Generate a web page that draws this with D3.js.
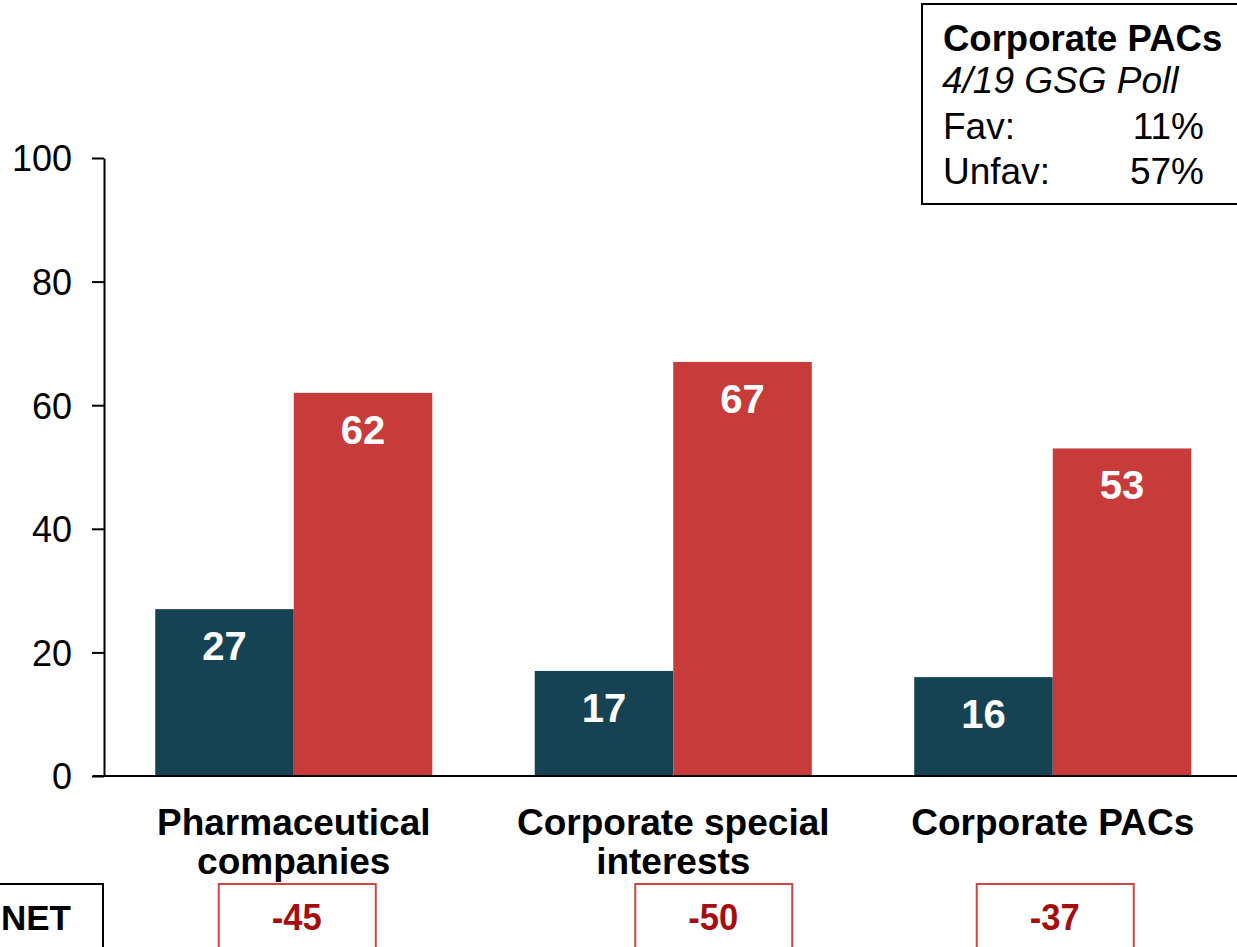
<!DOCTYPE html>
<html>
<head>
<meta charset="utf-8">
<script src="https://cdn.jsdelivr.net/npm/d3@7"></script>
<style>
  html, body { margin: 0; padding: 0; background: #fff; }
  svg { display: block; font-family: "Liberation Sans", Arial, sans-serif; }
</style>
</head>
<body>
<svg id="chart" width="1237" height="947"></svg>
<script>
// ---- Data ----
const categories = [["Pharmaceutical", "companies"], ["Corporate special", "interests"], ["Corporate PACs"]];
const categoryKeys = ["Pharmaceutical companies", "Corporate special interests", "Corporate PACs"];
const series = ["Favorable", "Unfavorable"];
const favorable = [27, 17, 16];
const unfavorable = [62, 67, 53];
const netValues = ["-45", "-50", "-37"];
const yTicks = [0, 20, 40, 60, 80, 100];
const legendTitle = "Corporate PACs";
const legendSubtitle = "4/19 GSG Poll";
const legendRows = [["Fav:", "11%"], ["Unfav:", "57%"]];

// ---- Layout ----
const svg = d3.select("#chart");
const axisX = 104, yTop = 158, yBottom = 776;
const colors = { Favorable: "#154353", Unfavorable: "#C83B3B" };

const x = d3.scaleBand().domain(categoryKeys).range([axisX, axisX + 3 * 379.5]).paddingInner(0.27).paddingOuter(0.135);
const xs = d3.scaleBand().domain(series).range([0, x.bandwidth()]);
const y = d3.scaleLinear().domain([0, 100]).range([yBottom, yTop]);

// Bars
const rows = categoryKeys.map((c, i) => ({ cat: c, vals: [{ s: "Favorable", v: favorable[i] }, { s: "Unfavorable", v: unfavorable[i] }] }));
const g = svg.append("g");
const grp = g.selectAll("g.grp").data(rows).join("g").attr("transform", d => `translate(${x(d.cat)},0)`);
grp.selectAll("rect").data(d => d.vals).join("rect")
  .attr("x", d => xs(d.s))
  .attr("y", d => y(d.v))
  .attr("width", xs.bandwidth())
  .attr("height", d => y(0) - y(d.v))
  .attr("fill", d => colors[d.s]);
grp.selectAll("text.val").data(d => d.vals).join("text")
  .attr("class", "val")
  .attr("x", d => xs(d.s) + xs.bandwidth() / 2)
  .attr("y", d => y(d.v) + 51)
  .attr("text-anchor", "middle")
  .attr("font-size", 40).attr("font-weight", "bold").attr("fill", "#fff")
  .text(d => d.v);

// Y axis
const yAxis = d3.axisLeft(y).tickValues(yTicks).tickSize(12).tickPadding(20).tickSizeOuter(0);
const ya = svg.append("g").attr("transform", `translate(${axisX},0)`).call(yAxis);
ya.select(".domain").attr("stroke", "#000").attr("stroke-width", 2);
ya.selectAll(".tick line").attr("stroke", "#000").attr("stroke-width", 2);
ya.selectAll(".tick text").attr("font-size", 36).attr("fill", "#000").attr("font-family", "Liberation Sans, Arial, sans-serif").attr("dy", "0.36em");

// X axis baseline
svg.append("line").attr("x1", 93).attr("x2", 1237).attr("y1", yBottom).attr("y2", yBottom)
  .attr("stroke", "#000").attr("stroke-width", 2);

// Category labels
categories.forEach((lines, i) => {
  const cx = x(categoryKeys[i]) + x.bandwidth() / 2;
  const t = svg.append("text").attr("text-anchor", "middle").attr("font-size", 37).attr("font-weight", "bold").attr("fill", "#000");
  lines.forEach((ln, j) => t.append("tspan").attr("x", cx).attr("y", 835 + j * 39).text(ln));
});

// NET row
svg.append("rect").attr("x", -10).attr("y", 884).attr("width", 113).attr("height", 80)
  .attr("fill", "none").attr("stroke", "#000").attr("stroke-width", 2);
svg.append("text").attr("x", 1).attr("y", 930).attr("text-anchor", "start")
  .attr("font-size", 35).attr("font-weight", "bold").attr("fill", "#000").text("NET");
const boxOffsets = [3, 40, 2];
netValues.forEach((v, i) => {
  const cx = x(categoryKeys[i]) + x.bandwidth() / 2 + boxOffsets[i];
  svg.append("rect").attr("x", cx - 78).attr("y", 884).attr("width", 157).attr("height", 80)
    .attr("fill", "#fff").attr("stroke", "#D04545").attr("stroke-width", 2);
  svg.append("text").attr("x", cx).attr("y", 930).attr("text-anchor", "middle")
    .attr("font-size", 37).attr("font-weight", "bold").attr("fill", "#A50E0E")
    .attr("textLength", 50).attr("lengthAdjust", "spacingAndGlyphs").text(v);
});

// Legend box
svg.append("rect").attr("x", 922).attr("y", 4).attr("width", 330).attr("height", 200)
  .attr("fill", "#fff").attr("stroke", "#000").attr("stroke-width", 2);
svg.append("text").attr("x", 943).attr("y", 51).attr("font-size", 36.5).attr("font-weight", "bold").attr("fill", "#000").text(legendTitle);
svg.append("text").attr("x", 942).attr("y", 93).attr("font-size", 37).attr("font-style", "italic").attr("fill", "#000").text(legendSubtitle);
legendRows.forEach((r, i) => {
  svg.append("text").attr("x", 943).attr("y", 139 + i * 45).attr("font-size", 37).attr("fill", "#000").text(r[0]);
  svg.append("text").attr("x", 1204).attr("y", 139 + i * 45).attr("text-anchor", "end").attr("font-size", 37).attr("fill", "#000").text(r[1]);
});
</script>
</body>
</html>
